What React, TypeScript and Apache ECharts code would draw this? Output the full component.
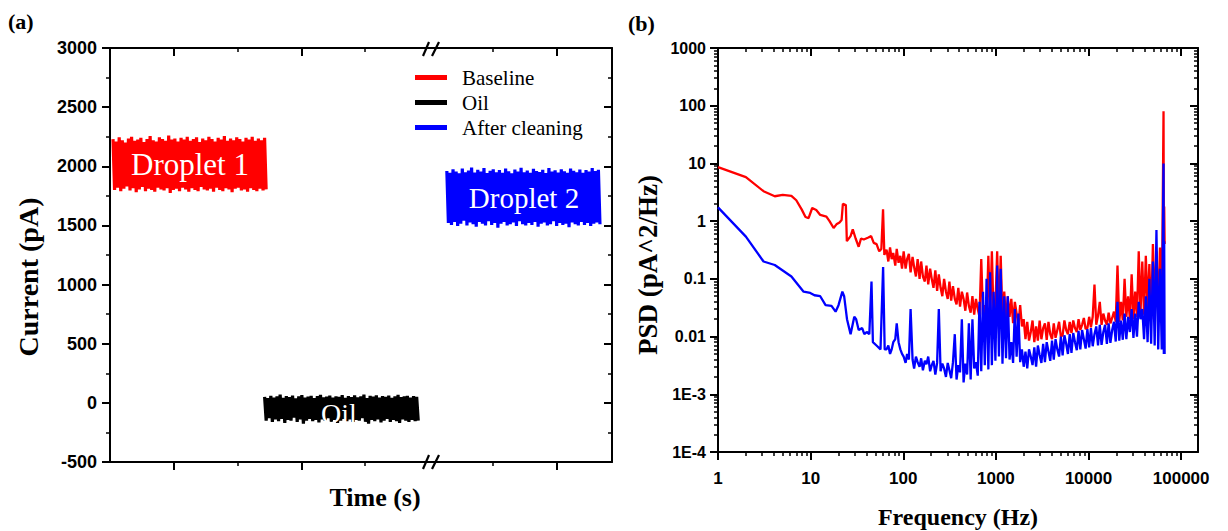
import React, { useEffect, useRef } from "react";
import * as echarts from "echarts";

// ---------------- Panel (a): current traces (pA) ----------------
// Each trace is a noisy recording: upper and lower excursions.
const seriesNames = ["Baseline", "Oil", "After cleaning"];

const baselineTimeRange = [0.6, 31.1];
const baselineTop = [2230, 2210, 2245, 2220, 2200, 2235, 2250, 2215, 2225, 2240, 2205, 2230, 2255, 2220, 2210, 2245, 2230, 2215, 2260, 2225, 2235, 2210, 2240, 2225, 2250, 2215, 2230, 2245, 2205, 2235, 2220, 2250, 2230, 2210, 2240, 2225, 2255, 2215, 2235, 2220, 2245, 2230, 2210, 2240, 2225, 2250, 2215, 2235, 2220, 2240];
const baselineBottom = [1800, 1820, 1790, 1810, 1830, 1795, 1815, 1780, 1805, 1825, 1790, 1810, 1800, 1785, 1820, 1805, 1795, 1815, 1775, 1800, 1810, 1790, 1820, 1805, 1785, 1815, 1800, 1790, 1825, 1805, 1795, 1810, 1785, 1820, 1800, 1790, 1815, 1805, 1780, 1810, 1820, 1795, 1805, 1785, 1815, 1800, 1790, 1810, 1795, 1805];

const oilTimeRange = [30.8, 61.4];
const oilTop = [50, 40, 60, 45, 55, 70, 42, 58, 48, 62, 38, 55, 65, 45, 52, 60, 40, 57, 68, 47, 53, 61, 44, 56, 50, 66, 42, 58, 49, 63, 46, 55, 70, 41, 59, 52, 64, 45, 57, 50, 61, 43, 56, 67, 48, 54, 60, 44, 58, 50];
const oilBottom = [-150, -130, -160, -140, -155, -135, -170, -145, -150, -125, -160, -140, -175, -150, -135, -155, -145, -165, -140, -150, -130, -160, -145, -170, -150, -135, -155, -140, -165, -145, -150, -130, -160, -175, -145, -155, -140, -165, -150, -135, -160, -145, -155, -170, -140, -150, -160, -145, -155, -150];

const cleanTimeRange = [67.1, 97.6];
const cleanTop = [1960, 1945, 1975, 1955, 1940, 1980, 1950, 1965, 1990, 1948, 1970, 1955, 1985, 1942, 1962, 1975, 1950, 1968, 1945, 1980, 1958, 1940, 1972, 1955, 1988, 1950, 1965, 1945, 1978, 1960, 1952, 1970, 1942, 1985, 1956, 1966, 1948, 1975, 1958, 1944, 1980, 1962, 1950, 1972, 1946, 1968, 1955, 1985, 1960, 1970];
const cleanBottom = [1520, 1505, 1530, 1495, 1515, 1540, 1500, 1525, 1510, 1490, 1530, 1515, 1500, 1535, 1505, 1520, 1480, 1515, 1530, 1500, 1510, 1525, 1495, 1535, 1510, 1500, 1520, 1505, 1530, 1490, 1515, 1525, 1500, 1510, 1535, 1495, 1520, 1505, 1515, 1485, 1525, 1510, 1500, 1530, 1505, 1520, 1495, 1515, 1525, 1510];

const timeMajorTicks = [12.7, 38.1, 88.9];
const timeMinorTicks = [25.4, 50.8, 76.2];

// ---------------- Panel (b): PSD (pA^2/Hz) ----------------
const baselineLowFreq = [1, 2, 3.1, 4.1, 5, 6.2, 7, 8, 8.8, 9.5, 10.4, 11.5, 12.7, 14.8, 16, 17.7, 19, 20.5, 21.6, 22.3, 24, 24.6, 27, 28.5, 30.6, 33, 35, 37.5, 42, 45, 48, 51.5, 55, 58, 60.5, 62.5];
const baselineLowPsd = [8.6, 5.8, 3.3, 2.7, 2.85, 2.75, 2.3, 1.6, 1.18, 1.13, 1.69, 1.56, 1.28, 1.2, 1.0, 0.76, 0.88, 0.95, 1.05, 2.0, 1.9, 0.45, 0.55, 0.72, 0.5, 0.36, 0.5, 0.48, 0.52, 0.55, 0.42, 0.4, 0.3, 0.33, 1.6, 0.26];

const cleanLowFreq = [1, 2, 3.1, 4.1, 6.2, 8.4, 9.9, 11, 12.7, 14.5, 16.8, 18.6, 20, 22, 23, 24.7, 27, 29.6, 31, 33, 36, 38, 40.3, 43, 45.4, 47, 51.4, 56.8, 60.6, 63];
const cleanLowPsd = [1.73, 0.54, 0.2, 0.174, 0.11, 0.06, 0.057, 0.052, 0.05, 0.035, 0.034, 0.027, 0.035, 0.06, 0.05, 0.02, 0.011, 0.022, 0.02, 0.013, 0.014, 0.011, 0.012, 0.011, 0.09, 0.008, 0.007, 0.006, 0.16, 0.006];

const noiseFreq = [66, 69, 72, 75, 78, 82, 85, 89, 93, 97,
  101, 106, 110, 115, 120, 126, 131, 137, 143, 150,
  156, 163, 171, 178, 186, 195, 203, 212, 222, 232,
  242, 253, 264, 276, 289, 302, 315, 329, 344, 360,
  376, 393, 410, 429, 448, 468, 489, 511, 534, 558,
  583, 609, 637, 665, 695, 726, 759, 793, 829, 866,
  905, 945, 988, 1032, 1079, 1127, 1178, 1231, 1286, 1344,
  1404, 1467, 1533, 1602, 1674, 1750, 1828, 1910, 1996, 2086,
  2180, 2278, 2380, 2487, 2599, 2716, 2838, 2966, 3099, 3238,
  3384, 3536, 3695, 3861, 4035, 4216, 4406, 4604, 4811, 5027,
  5253, 5489, 5736, 5994, 6264, 6545, 6840, 7147, 7469, 7804,
  8155, 8522, 8905, 9306, 9724, 10161, 10618, 11096, 11595, 12116,
  12661, 13231, 13826, 14448, 15098, 15778, 16487, 17229, 18004, 18815,
  19661, 20546, 21470, 22436, 23446, 24501, 25603, 26755, 27959, 29217,
  30532, 31906, 33342, 34842, 36410, 38048, 39760, 41549, 43419, 45373,
  47415, 49548, 51778, 54108, 56543, 59087, 61746];

const baselineNoisePsd = [0.32, 0.2, 0.35, 0.22, 0.28, 0.17, 0.33, 0.19, 0.25, 0.15,
  0.3, 0.15, 0.22, 0.27, 0.13, 0.24, 0.16, 0.11, 0.22, 0.1,
  0.2, 0.11, 0.09, 0.17, 0.08, 0.15, 0.1, 0.07, 0.14, 0.062,
  0.12, 0.07, 0.05, 0.1, 0.06, 0.045, 0.09, 0.042, 0.075, 0.045,
  0.036, 0.07, 0.033, 0.06, 0.045, 0.028, 0.058, 0.034, 0.026, 0.05,
  0.024, 0.045, 0.03, 0.022, 0.22, 0.024, 0.035, 0.02, 0.25, 0.022,
  0.3, 0.02, 0.033, 0.3, 0.02, 0.25, 0.019, 0.06, 0.018, 0.05,
  0.022, 0.045, 0.017, 0.04, 0.025, 0.016, 0.035, 0.015, 0.02, 0.009,
  0.018, 0.0085, 0.012, 0.019, 0.008, 0.015, 0.0085, 0.019, 0.009, 0.014,
  0.017, 0.0088, 0.018, 0.011, 0.009, 0.017, 0.0095, 0.013, 0.018, 0.01,
  0.0105, 0.019, 0.013, 0.011, 0.018, 0.0115, 0.019, 0.014, 0.012, 0.02,
  0.013, 0.016, 0.021, 0.0135, 0.014, 0.022, 0.0145, 0.022, 0.08, 0.016,
  0.023, 0.04, 0.016, 0.025, 0.019, 0.016, 0.026, 0.017, 0.021, 0.027,
  0.018, 0.17, 0.018, 0.04, 0.019, 0.1, 0.022, 0.05, 0.02, 0.12,
  0.02, 0.06, 0.022, 0.3, 0.025, 0.2, 0.024, 0.25, 0.03, 0.18,
  0.02, 0.4, 0.03, 0.3, 0.025, 0.35, 0.02];

const cleanNoisePsd = [0.006, 0.007, 0.005, 0.006, 0.008, 0.009, 0.017, 0.008, 0.006, 0.005,
  0.0045, 0.0035, 0.005, 0.004, 0.03, 0.004, 0.0028, 0.0045, 0.0036, 0.003,
  0.0042, 0.0026, 0.0038, 0.0033, 0.0045, 0.0025, 0.0032, 0.0038, 0.0022, 0.0035,
  0.03, 0.0025, 0.0034, 0.0028, 0.002, 0.0035, 0.0026, 0.0019, 0.0036, 0.011,
  0.0018, 0.0032, 0.0024, 0.02, 0.0016, 0.0034, 0.0022, 0.017, 0.0018, 0.02,
  0.0028, 0.0036, 0.0021, 0.04, 0.0025, 0.06, 0.0032, 0.1, 0.0027, 0.13,
  0.0032, 0.06, 0.0038, 0.17, 0.0045, 0.15, 0.0034, 0.05, 0.0042, 0.05,
  0.004, 0.008, 0.0035, 0.03, 0.0045, 0.025, 0.0036, 0.006, 0.003, 0.0055,
  0.0028, 0.006, 0.0045, 0.0032, 0.0065, 0.003, 0.007, 0.0048, 0.0035, 0.0075,
  0.0036, 0.008, 0.0055, 0.0038, 0.0085, 0.004, 0.009, 0.006, 0.0045, 0.01,
  0.0047, 0.0105, 0.0075, 0.005, 0.011, 0.0052, 0.0115, 0.008, 0.0058, 0.0125,
  0.006, 0.013, 0.009, 0.0062, 0.0135, 0.0065, 0.014, 0.0068, 0.011, 0.015,
  0.007, 0.016, 0.0072, 0.012, 0.016, 0.0075, 0.017, 0.0078, 0.013, 0.018,
  0.0082, 0.04, 0.0085, 0.019, 0.0088, 0.025, 0.009, 0.022, 0.012, 0.03,
  0.0095, 0.025, 0.01, 0.04, 0.02, 0.03, 0.009, 0.05, 0.008, 0.1,
  0.0075, 0.2, 0.007, 0.7, 0.006, 0.15, 0.006];

const tailFreq = [64525, 65000, 65600, 66300];
const baselineTailPsd = [80, 0.5, 1.8, 0.4];
const cleanTailPsd = [10, 0.005, 0.45, 0.005];

const freqTicks = [1, 10, 100, 1000, 10000, 100000];
const psdTicks = [1e-4, 1e-3, 0.01, 0.1, 1, 10, 100, 1000];

// ---------------- helpers ----------------
const SANS = '"Liberation Sans", Arial, sans-serif';
const SERIF = '"Liberation Serif", "Times New Roman", serif';
const BLACK = "#000000";
const RED = "#ff0000";
const BLUE = "#0000ff";

function bandTrace(range: number[], top: number[], bottom: number[]) {
  const n = Math.min(top.length, bottom.length) * 2;
  const dt = (range[1] - range[0]) / (n - 1);
  const pts: number[][] = [];
  for (let i = 0; i < n; i++) {
    const v = i % 2 === 0 ? top[i >> 1] : bottom[i >> 1];
    pts.push([range[0] + i * dt, v]);
  }
  return pts;
}

function zip(xs: number[], ys: number[]) {
  const out: number[][] = [];
  for (let i = 0; i < Math.min(xs.length, ys.length); i++) out.push([xs[i], ys[i]]);
  return out;
}

function logMinor(e0: number, e1: number, lo: number, hi: number) {
  const out: number[] = [];
  for (let e = e0; e <= e1; e++) {
    for (let m = 2; m <= 9; m++) {
      const v = m * Math.pow(10, e);
      if (v > lo && v < hi) out.push(v);
    }
  }
  return out;
}

function psdLabel(v: number) {
  const e = Math.round(Math.log10(v));
  if (e <= -3) return "1E" + e;
  if (e < 0) return v.toFixed(-e);
  return String(Math.round(v));
}

const FREQ_MAX = 152000;
const freqMinor = logMinor(0, 5, 1, FREQ_MAX);
const psdMinor = logMinor(-4, 2, 1e-4, 1000);

const lineSty = { color: BLACK, width: 2 };
const majorTick = (inside: boolean, customValues?: number[]) => ({
  show: true, inside, length: 8, lineStyle: { color: BLACK, width: 2 },
  ...(customValues ? { customValues } : {}),
});
const minorTickAx = (inside: boolean, customValues: number[]) => ({
  show: true, inside, length: 4, lineStyle: { color: BLACK, width: 1.5 }, customValues,
});
const noLabel = { show: false };
const noSplit = { show: false };
const tickLabel = { fontFamily: SANS, fontWeight: "bold" as const, fontSize: 16, color: BLACK };

function buildOption() {
  const xAxis: any[] = [
    // panel (a)
    { gridIndex: 0, type: "value", min: 0, max: 100, position: "bottom", axisLine: { show: true, onZero: false, lineStyle: lineSty }, axisTick: majorTick(false, timeMajorTicks), axisLabel: noLabel, splitLine: noSplit },
    { gridIndex: 0, type: "value", min: 0, max: 100, position: "bottom", axisLine: { show: false, onZero: false }, axisTick: minorTickAx(false, timeMinorTicks), axisLabel: noLabel, splitLine: noSplit },
    { gridIndex: 0, type: "value", min: 0, max: 100, position: "top", axisLine: { show: true, onZero: false, lineStyle: lineSty }, axisTick: majorTick(true, timeMajorTicks), axisLabel: noLabel, splitLine: noSplit },
    { gridIndex: 0, type: "value", min: 0, max: 100, position: "top", axisLine: { show: false, onZero: false }, axisTick: minorTickAx(true, timeMinorTicks), axisLabel: noLabel, splitLine: noSplit },
    // panel (b)
    { gridIndex: 1, type: "log", logBase: 10, min: 1, max: FREQ_MAX, position: "bottom", axisLine: { show: true, onZero: false, lineStyle: lineSty }, axisTick: majorTick(false, freqTicks), axisLabel: { ...tickLabel, fontSize: 17, customValues: freqTicks, margin: 18, formatter: (v: number) => String(Math.round(v)) }, splitLine: noSplit },
    { gridIndex: 1, type: "log", logBase: 10, min: 1, max: FREQ_MAX, position: "bottom", axisLine: { show: false, onZero: false }, axisTick: minorTickAx(false, freqMinor), axisLabel: noLabel, splitLine: noSplit },
    { gridIndex: 1, type: "log", logBase: 10, min: 1, max: FREQ_MAX, position: "top", axisLine: { show: true, onZero: false, lineStyle: lineSty }, axisTick: majorTick(true, freqTicks), axisLabel: noLabel, splitLine: noSplit },
    { gridIndex: 1, type: "log", logBase: 10, min: 1, max: FREQ_MAX, position: "top", axisLine: { show: false, onZero: false }, axisTick: minorTickAx(true, freqMinor), axisLabel: noLabel, splitLine: noSplit },
  ];

  const yAxis: any[] = [
    { gridIndex: 0, type: "value", min: -500, max: 3000, interval: 500, position: "left", axisLine: { show: true, onZero: false, lineStyle: lineSty }, axisTick: majorTick(false), minorTick: { show: true, splitNumber: 2, length: 4, lineStyle: { color: BLACK, width: 1.5 } }, axisLabel: { ...tickLabel, fontSize: 18, margin: 13, formatter: (v: number) => String(v) }, splitLine: noSplit, minorSplitLine: noSplit },
    { gridIndex: 0, type: "value", min: -500, max: 3000, interval: 500, position: "right", axisLine: { show: true, onZero: false, lineStyle: lineSty }, axisTick: majorTick(true), minorTick: { show: true, splitNumber: 2, length: 4, lineStyle: { color: BLACK, width: 1.5 } }, axisLabel: noLabel, splitLine: noSplit, minorSplitLine: noSplit },
    { gridIndex: 1, type: "log", logBase: 10, min: 1e-4, max: 1000, position: "left", axisLine: { show: true, onZero: false, lineStyle: lineSty }, axisTick: majorTick(false, psdTicks), axisLabel: { ...tickLabel, customValues: psdTicks, margin: 12, formatter: psdLabel }, splitLine: noSplit },
    { gridIndex: 1, type: "log", logBase: 10, min: 1e-4, max: 1000, position: "left", axisLine: { show: false, onZero: false }, axisTick: minorTickAx(false, psdMinor), axisLabel: noLabel, splitLine: noSplit },
    { gridIndex: 1, type: "log", logBase: 10, min: 1e-4, max: 1000, position: "right", axisLine: { show: true, onZero: false, lineStyle: lineSty }, axisTick: majorTick(true, psdTicks), axisLabel: noLabel, splitLine: noSplit },
    { gridIndex: 1, type: "log", logBase: 10, min: 1e-4, max: 1000, position: "right", axisLine: { show: false, onZero: false }, axisTick: minorTickAx(true, psdMinor), axisLabel: noLabel, splitLine: noSplit },
  ];

  const bandLine = (name: string, color: string, data: number[][]) => ({
    name, type: "line", xAxisIndex: 0, yAxisIndex: 0, data, symbol: "none", showSymbol: false,
    lineStyle: { color, width: 3.2, join: "miter" }, itemStyle: { color }, silent: true, z: 2,
  });
  const psdLine = (name: string, color: string, data: number[][], z: number) => ({
    name, type: "line", xAxisIndex: 4, yAxisIndex: 2, data, symbol: "none", showSymbol: false,
    lineStyle: { color, width: 2.3 }, itemStyle: { color }, silent: true, z,
  });

  const baselinePsd = [...zip(baselineLowFreq, baselineLowPsd), ...zip(noiseFreq, baselineNoisePsd), ...zip(tailFreq, baselineTailPsd)];
  const cleanPsd = [...zip(cleanLowFreq, cleanLowPsd), ...zip(noiseFreq, cleanNoisePsd), ...zip(tailFreq, cleanTailPsd)];

  const titleFont = { fontFamily: SERIF, fontWeight: "bold", fill: BLACK };
  const whiteLabel = (text: string, x: number, y: number, size: number) => ({
    type: "text", x, y, z: 100, style: { text, fontFamily: SERIF, fontSize: size, fill: "#ffffff", align: "center", verticalAlign: "middle" },
  });
  const slash = (x1: number, y1: number, x2: number, y2: number) => ({
    type: "line", z: 100, shape: { x1, y1, x2, y2 }, style: { stroke: BLACK, lineWidth: 2.2 },
  });

  return {
    animation: false,
    backgroundColor: "#ffffff",
    grid: [
      { left: 110, top: 48, width: 502, height: 414, containLabel: false },
      { left: 718, top: 48, width: 480, height: 404, containLabel: false },
    ],
    legend: {
      data: seriesNames, orient: "vertical", left: 410, top: 60, icon: "rect", itemWidth: 32, itemHeight: 5, itemGap: 0,
      selectedMode: false,
      textStyle: { fontFamily: SERIF, fontSize: 21, color: BLACK, lineHeight: 25, padding: [0, 0, 0, 10] },
    },
    xAxis, yAxis,
    series: [
      bandLine(seriesNames[0], RED, bandTrace(baselineTimeRange, baselineTop, baselineBottom)),
      bandLine(seriesNames[1], BLACK, bandTrace(oilTimeRange, oilTop, oilBottom)),
      bandLine(seriesNames[2], BLUE, bandTrace(cleanTimeRange, cleanTop, cleanBottom)),
      psdLine("Baseline PSD", RED, baselinePsd, 2),
      psdLine("After cleaning PSD", BLUE, cleanPsd, 3),
    ],
    graphic: [
      { type: "text", x: 8, y: 21, z: 100, style: { text: "(a)", ...titleFont, fontSize: 22, align: "left", verticalAlign: "middle" } },
      { type: "text", x: 628, y: 23, z: 100, style: { text: "(b)", ...titleFont, fontSize: 22, align: "left", verticalAlign: "middle" } },
      { type: "text", x: 28, y: 277, rotation: Math.PI / 2, z: 100, style: { text: "Current (pA)", ...titleFont, fontSize: 28, align: "center", verticalAlign: "middle" } },
      { type: "text", x: 375, y: 497, z: 100, style: { text: "Time (s)", ...titleFont, fontSize: 26, align: "center", verticalAlign: "middle" } },
      { type: "text", x: 648, y: 265, rotation: Math.PI / 2, z: 100, style: { text: "PSD (pA^2/Hz)", ...titleFont, fontSize: 27, align: "center", verticalAlign: "middle" } },
      { type: "text", x: 958, y: 517, z: 100, style: { text: "Frequency (Hz)", ...titleFont, fontSize: 24, align: "center", verticalAlign: "middle" } },
      whiteLabel("Droplet 1", 190, 164, 31),
      whiteLabel("Oil", 339, 413, 28),
      whiteLabel("Droplet 2", 524, 198, 29),
      slash(423, 56, 429, 42),
      slash(432, 56, 439, 42),
      slash(423, 469, 429, 455),
      slash(432, 469, 439, 455),
    ],
  };
}

export default function App() {
  const ref = useRef<HTMLDivElement>(null);
  useEffect(() => {
    if (!ref.current) return;
    const chart = echarts.init(ref.current, null, { renderer: "svg" });
    chart.setOption(buildOption() as any);
    return () => chart.dispose();
  }, []);
  return (
    <div
      ref={ref}
      style={{ position: "fixed", left: 0, top: 0, width: 1228, height: 531, background: "#ffffff" }}
    />
  );
}
